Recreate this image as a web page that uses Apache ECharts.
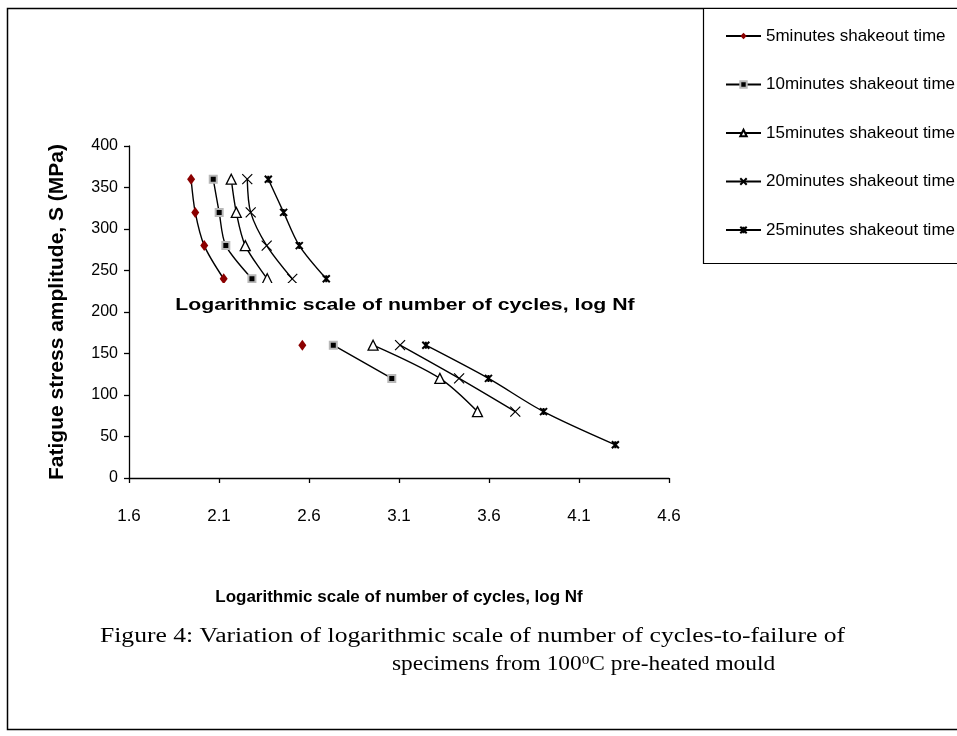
<!DOCTYPE html>
<html>
<head>
  <meta charset="utf-8">
  <title>S-N curves, 100C pre-heated mould</title>
  <script src="https://cdn.jsdelivr.net/npm/echarts@6/dist/echarts.min.js"></script>
  <style>
    html, body { margin: 0; padding: 0; background: #fff; }
    #chart { width: 957px; height: 736px; }
  </style>
</head>
<body>
<div id="chart"></div>
<script>
// stress levels (MPa), one row per test level; null = no specimen at that level
var stressLevels = [360, 320, 280, 240, 200, 160, 120, 80, 40];
var logNf5  = [1.945, 1.968, 2.018, 2.126, null, 2.563, null,  null,  null];
var logNf10 = [2.068, 2.101, 2.138, 2.283, null, 2.735, 3.060, null,  null];
var logNf15 = [2.168, 2.196, 2.246, 2.368, null, 2.956, 3.327, 3.536, null];
var logNf20 = [2.257, 2.276, 2.365, 2.507, null, 3.106, 3.434, 3.746, null];
var logNf25 = [2.374, 2.459, 2.546, 2.696, null, 3.249, 3.597, 3.903, 4.302];

var seriesNames = ['5minutes shakeout time', '10minutes shakeout time', '15minutes shakeout time',
                   '20minutes shakeout time', '25minutes shakeout time'];
var xTickLabels = [1.6, 2.1, 2.6, 3.1, 3.6, 4.1, 4.6];

function pairs(xs) {
  var out = [];
  for (var i = 0; i < xs.length; i++) {
    if (xs[i] === null) {
      if (out.length) out.push(['-', stressLevels[i]]);   // break the line
    } else {
      out.push([xs[i], stressLevels[i]]);
    }
  }
  return out;
}

var markers = [
  { symbol: 'diamond', size: [8, 11], item: { color: '#8b0000' } },
  { symbol: 'rect', size: 7, item: { color: '#000', borderColor: '#b8b8b8', borderWidth: 2 } },
  { symbol: 'triangle', size: [10, 10], item: { color: '#fff', borderColor: '#000', borderWidth: 1.3 } },
  { symbol: 'path://M0,0L10,10M10,0L0,10', size: 10, item: { color: '#000', borderColor: '#000', borderWidth: 1.2 } },
  { symbol: 'path://M0,0L10,10M10,0L0,10M5,0L5,10', size: 7, item: { color: '#000', borderColor: '#000', borderWidth: 2 } }
];
var allX = [logNf5, logNf10, logNf15, logNf20, logNf25];

var series = allX.map(function (xs, k) {
  return {
    name: seriesNames[k],
    type: 'line',
    data: pairs(xs),
    smooth: 0.3,
    connectNulls: false,
    symbol: markers[k].symbol,
    symbolSize: markers[k].size,
    symbolKeepAspect: true,
    itemStyle: markers[k].item,
    lineStyle: { color: '#000', width: 1.4 },
    emphasis: { disabled: true },
    z: 3
  };
});

var serif = '"Liberation Serif", "Times New Roman", serif';

var chart = echarts.init(document.getElementById('chart'));
chart.setOption({
  animation: false,
  backgroundColor: '#fff',
  grid: { left: 129, right: 288, top: 146, bottom: 258 },
  xAxis: {
    type: 'value',
    min: 1.6,
    max: 4.6,
    name: 'Logarithmic scale of number of cycles, log Nf',
    nameLocation: 'middle',
    nameGap: 111,
    nameTextStyle: { fontFamily: 'Liberation Sans, Arial', fontWeight: 'bold', fontSize: 17, color: '#000' },
    splitLine: { show: false },
    axisLine: { lineStyle: { color: '#000', width: 1.3 } },
    axisTick: { show: true, length: 5, customValues: xTickLabels, lineStyle: { color: '#000', width: 1.3 } },
    axisLabel: {
      customValues: xTickLabels,
      margin: 30,
      fontFamily: 'Liberation Sans, Arial',
      fontSize: 17,
      color: '#000',
      formatter: function (v) { return v.toFixed(1); }
    }
  },
  yAxis: {
    type: 'value',
    min: 0,
    max: 400,
    interval: 50,
    name: 'Fatigue stress amplitude, S (MPa)',
    nameLocation: 'middle',
    nameGap: 61,
    nameRotate: 90,
    nameTextStyle: { fontFamily: 'Liberation Sans, Arial', fontWeight: 'bold', fontSize: 21, color: '#000' },
    splitLine: { show: false },
    axisLine: { show: true, lineStyle: { color: '#000', width: 1.3 } },
    axisTick: { show: true, length: 5, lineStyle: { color: '#000', width: 1.3 } },
    axisLabel: { margin: 11, fontFamily: 'Liberation Sans, Arial', fontSize: 16, color: '#000' }
  },
  legend: {
    orient: 'vertical',
    left: 720,
    top: 21,
    itemWidth: 35,
    itemHeight: 8,
    itemGap: 28.5,
    textStyle: { fontFamily: 'Liberation Sans, Arial', fontSize: 17, color: '#000', lineHeight: 20 },
    data: seriesNames
  },
  graphic: [
    { type: 'rect', z: 0, shape: { x: 7.5, y: 8.5, width: 960, height: 721 },
      style: { fill: 'none', stroke: '#000', lineWidth: 1.5 } },
    { type: 'rect', z: 0, shape: { x: 703.5, y: 8.5, width: 260, height: 255 },
      style: { fill: '#fff', stroke: '#000', lineWidth: 1.2 } },
    { type: 'rect', z: 100, shape: { x: 168, y: 283, width: 475, height: 42 },
      style: { fill: '#fff' } },
    { type: 'text', z: 101, x: 405, y: 305, scaleX: 1.25,
      style: { text: 'Logarithmic scale of number of cycles, log Nf', fill: '#000',
               font: 'bold 17px "Liberation Sans", Arial', textAlign: 'center', textVerticalAlign: 'middle' } },
    { type: 'text', z: 101, x: 100, y: 637, scaleX: 1.28,
      style: { text: 'Figure 4: Variation of logarithmic scale of number of cycles-to-failure of', fill: '#000',
               font: '20px ' + serif, textAlign: 'left', textVerticalAlign: 'middle' } },
    { type: 'text', z: 101, x: 392, y: 665, scaleX: 1.17,
      style: { text: 'specimens from 100{sup|0}C pre-heated mould', fill: '#000',
               font: '20px ' + serif, textAlign: 'left', textVerticalAlign: 'middle',
               rich: { sup: { font: '13px ' + serif, verticalAlign: 'top', padding: [0, 0, 9, 0] } } } }
  ],
  series: series
});
</script>
</body>
</html>
